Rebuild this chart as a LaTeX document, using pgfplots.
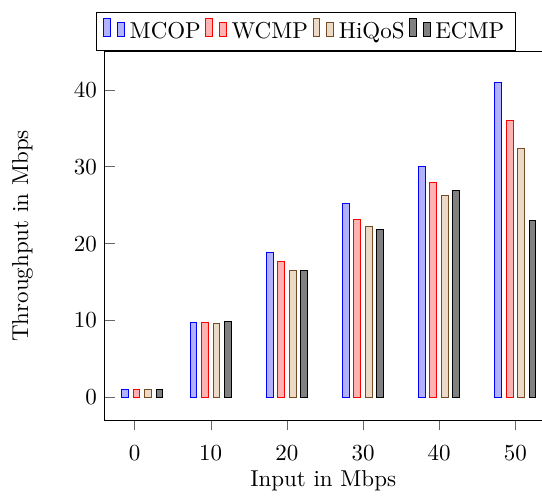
\documentclass[border=0pt]{standalone}
\usepackage{pgfplots}
\pgfplotsset{compat=1.18}
\begin{document}
\begin{tikzpicture}
\begin{axis}[
  scale only axis, width=190pt, height=160.65pt,
  ybar, bar width=3pt,
  xmin=-3.9, xmax=53.45, ymin=-3, ymax=45,
  axis lines*=left,
  xtick={0,10,...,50}, ytick={0,10,...,40},
  xlabel={Input in Mbps}, ylabel={Throughput in Mbps},
  ylabel shift=11pt,
  xticklabel style={yshift=-3pt},
  xlabel shift=-2.5pt,
  legend columns=-1,
  legend style={at={(0.461,1)}, anchor=south},
  xtick align=outside, ytick align=inside,
  tick style={black!60},
  clip=false,
]
\addplot coordinates {(1,1) (10,9.75) (20,18.9) (30,25.25) (40,30) (50,41)};
\addplot coordinates {(1,1) (10,9.75) (20,17.7) (30,23.2) (40,28) (50,36)};
\addplot coordinates {(1,1) (10,9.65) (20,16.5) (30,22.2) (40,26.25) (50,32.4)};
\addplot coordinates {(1,1) (10,9.85) (20,16.55) (30,21.9) (40,26.95) (50,23.05)};
\legend{MCOP,WCMP,HiQoS,ECMP}
\draw[black] (rel axis cs:0,1) -- (rel axis cs:1,1);
\end{axis}
\path (-45.65pt,-28pt) rectangle (190pt,183pt);
\end{tikzpicture}
\end{document}
